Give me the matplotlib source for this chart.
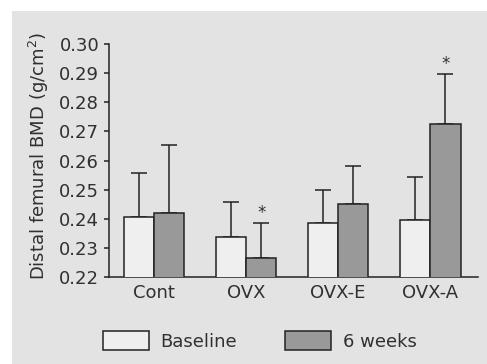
import matplotlib
matplotlib.use("Agg")
import matplotlib.pyplot as plt
import matplotlib.patches as patches
import numpy as np

plt.rcParams['font.family'] = ['DejaVu Sans']

groups = ["Cont", "OVX", "OVX-E", "OVX-A"]
baseline = [0.2407, 0.2338, 0.2386, 0.2395]
baseline_err = [0.0151, 0.0120, 0.0111, 0.0150]
weeks6 = [0.2421, 0.2265, 0.2450, 0.2725]
weeks6_err = [0.0231, 0.0121, 0.0131, 0.0173]
significant = [False, True, False, True]

W, H = 487, 364
fig = plt.figure(figsize=(W / 100, H / 100), dpi=100)
fig.patch.set_facecolor('white')
fig.patches.append(patches.Rectangle((12 / W, 0), 1 - 12 / W, 1 - 11 / H,
                                     transform=fig.transFigure, facecolor='#e3e3e3',
                                     edgecolor='none', zorder=-10))

ax = fig.add_axes([109 / W, (H - 277) / H, (478 - 109) / W, (277 - 44) / H])
ax.set_facecolor('none')

x = np.arange(len(groups))
w = 0.33
txt = '#303030'
edge = '#222222'
fs = 13

ax.bar(x - w / 2, baseline, w, bottom=0, color='#efefef', edgecolor=edge, linewidth=1.1, zorder=3)
ax.bar(x + w / 2, weeks6, w, bottom=0, color='#999999', edgecolor=edge, linewidth=1.1, zorder=3)
ax.errorbar(x - w / 2, baseline, yerr=[np.zeros(4), baseline_err], fmt='none',
            ecolor=edge, elinewidth=1.1, capsize=5.5, capthick=1.1, zorder=2)
ax.errorbar(x + w / 2, weeks6, yerr=[np.zeros(4), weeks6_err], fmt='none',
            ecolor=edge, elinewidth=1.1, capsize=5.5, capthick=1.1, zorder=2)

for i, s in enumerate(significant):
    if s:
        ax.text(x[i] + w / 2, weeks6[i] + weeks6_err[i] + 0.0004, '*', ha='center',
                va='bottom', fontsize=12, color=txt)

ax.set_ylim(0.22, 0.30)
ax.set_xlim(-0.49, 3.52)
ax.set_yticks(np.arange(0.22, 0.3001, 0.01))
ax.set_yticklabels([f"{v:.2f}" for v in np.arange(0.22, 0.3001, 0.01)])
ax.set_xticks(x)
ax.set_xticklabels(groups)
ax.tick_params(axis='y', direction='out', length=3.6, width=1.1, colors=edge,
               labelsize=fs, labelcolor=txt, pad=3.5)
ax.tick_params(axis='x', length=0, labelsize=fs, labelcolor=txt, pad=5)
for sp in ['top', 'right']:
    ax.spines[sp].set_visible(False)
for sp in ['left', 'bottom']:
    ax.spines[sp].set_color(edge)
    ax.spines[sp].set_linewidth(1.1)
ax.set_ylabel('Distal femural BMD (g/cm$^2$)', fontsize=fs, color=txt)
ax.yaxis.set_label_coords(-(109 - 51) / (478 - 109), 0.52)

handles = [patches.Patch(facecolor='#efefef', edgecolor=edge, linewidth=1.1),
           patches.Patch(facecolor='#999999', edgecolor=edge, linewidth=1.1)]
fig.legend(handles, ['Baseline', '6 weeks'], loc='center',
           bbox_to_anchor=(0.5 + 16 / W, (H - 341) / H), ncol=2, frameon=False,
           fontsize=fs, handlelength=2.55, handleheight=1.25, handletextpad=0.65,
           columnspacing=2.65, labelcolor=txt)

fig.savefig('out.png', dpi=100)
